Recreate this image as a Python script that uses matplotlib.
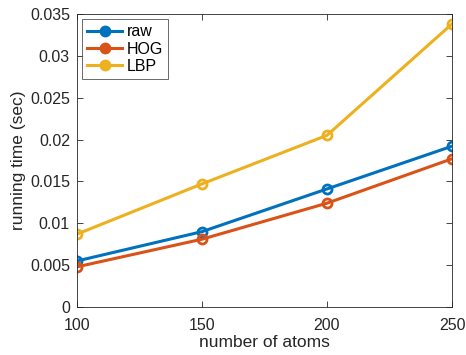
import matplotlib
matplotlib.use('Agg')
import matplotlib.pyplot as plt

atoms = [100, 150, 200, 250]
raw = [0.0055, 0.0090, 0.0141, 0.0192]
hog = [0.0048, 0.0081, 0.0124, 0.0177]
lbp = [0.0087, 0.0147, 0.0205, 0.0338]
yticks = [0, 0.005, 0.01, 0.015, 0.02, 0.025, 0.03, 0.035]
ytick_labels = ['0', '0.005', '0.01', '0.015', '0.02', '0.025', '0.03', '0.035']

plt.rcParams['font.family'] = ['Liberation Sans', 'DejaVu Sans']

fig = plt.figure(figsize=(4.66, 3.55), dpi=100)
ax = fig.add_axes([0.165, 0.135, 0.805, 0.826])

series = [('raw', raw, '#0072BD'), ('HOG', hog, '#D95319'), ('LBP', lbp, '#EDB120')]
for name, vals, col in series:
    ax.plot(atoms, vals, '-o', color=col, lw=2.2, ms=6.5, mew=2,
            mfc='none', label=name)

ax.set_xlim(100, 250)
ax.set_ylim(0, 0.035)
ax.set_xticks(atoms)
ax.set_yticks(yticks)
ax.set_yticklabels(ytick_labels)
ax.tick_params(direction='in', top=True, right=True, labelsize=11.5,
               colors='#262626', length=4, width=0.6, pad=5)
ax.tick_params(axis='x', pad=8)
for s in ax.spines.values():
    s.set_color('#262626')
    s.set_linewidth(0.6)

ax.set_xlabel('number of atoms', fontsize=12.5, color='#262626', labelpad=1)
ax.set_ylabel('running time (sec)', fontsize=12.5, color='#262626', labelpad=3)

leg = ax.legend(loc='upper left', fontsize=11.5, frameon=True, fancybox=False,
                borderaxespad=0.35, handlelength=2.2, handletextpad=0.3,
                labelspacing=0.15, borderpad=0.3)
leg.get_frame().set_edgecolor('#262626')
leg.get_frame().set_linewidth(0.6)
for h in leg.legend_handles:
    h.set_markerfacecolor(h.get_color())

fig.savefig('out.png', dpi=100)
